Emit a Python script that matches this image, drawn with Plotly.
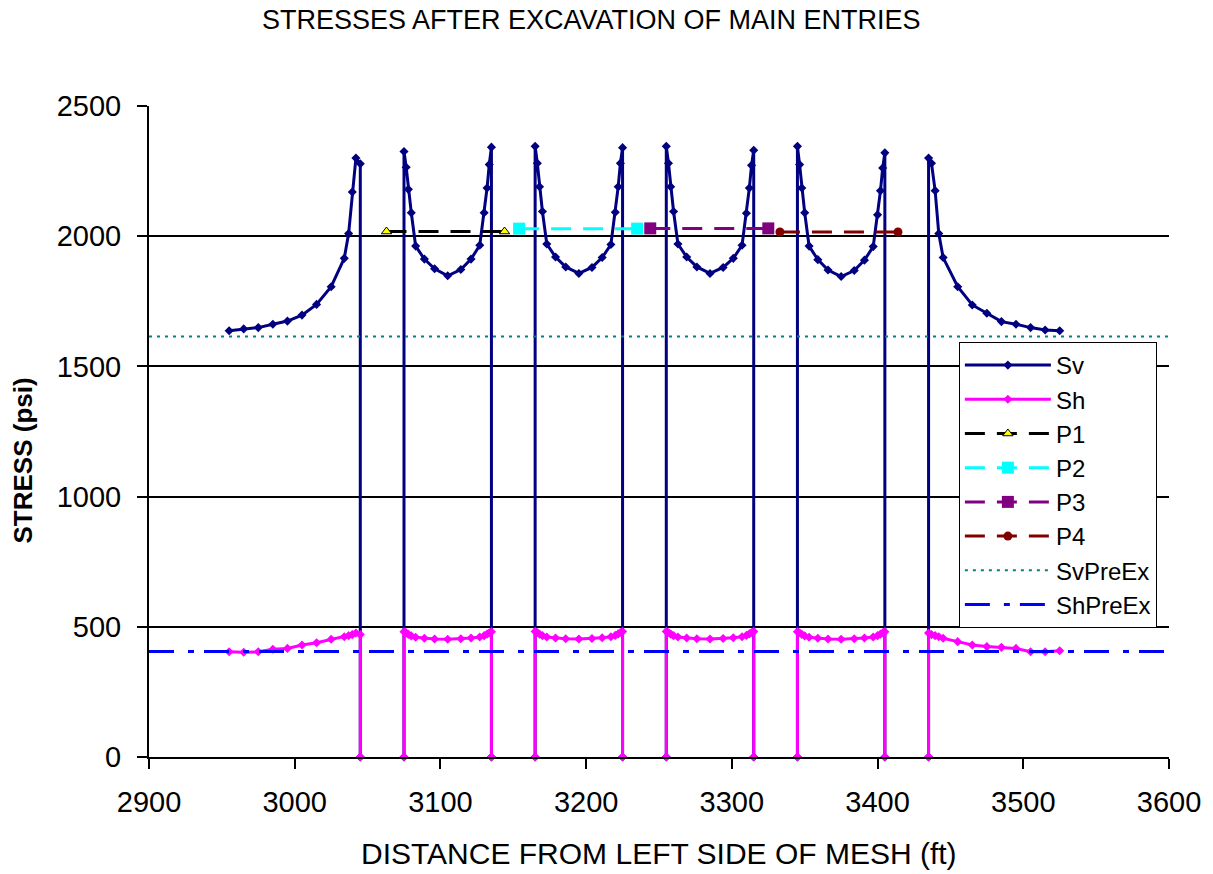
import plotly.graph_objects as go

# ---- Stress profile data (distance in ft, stress in psi) ----
# Left solid abutment (ends at the first entry rib)
left_x = [2955, 2965, 2975, 2985, 2995, 3005, 3015, 3025, 3034, 3037, 3039.5, 3042, 3045, 3045]
left_sv = [1637, 1644, 1649, 1662, 1674, 1697, 1738, 1806, 1915, 2010, 2170, 2300, 2278, 0]
left_sh = [404, 402, 404, 414, 417, 430, 439, 452, 462, 466, 470, 476, 470, 0]

# Pillar nodes: offsets (ft) from each pillar's left rib; pillars are 60 ft wide
pillar_left_ribs = [3075, 3165, 3255, 3345]
pillar_offsets = [0, 0, 1.5, 3, 5, 8, 14, 21, 30, 39, 46, 52, 55, 57, 58.5, 60, 60]

pillar1_sv = [0, 2325, 2265, 2180, 2090, 1962, 1912, 1875, 1848, 1872, 1912, 1965, 2090, 2185, 2275, 2342, 0]
pillar2_sv = [0, 2345, 2280, 2190, 2095, 1970, 1920, 1882, 1857, 1880, 1918, 1968, 2092, 2190, 2280, 2340, 0]
pillar3_sv = [0, 2345, 2280, 2190, 2095, 1970, 1920, 1882, 1857, 1880, 1915, 1965, 2088, 2185, 2272, 2330, 0]
pillar4_sv = [0, 2345, 2275, 2185, 2090, 1962, 1910, 1870, 1845, 1868, 1908, 1960, 2082, 2175, 2262, 2320, 0]

pillar1_sh = [0, 481, 477, 471, 465, 460, 456, 453, 452, 454, 457, 461, 466, 472, 477, 481, 0]
pillar2_sh = [0, 482, 478, 472, 466, 461, 457, 454, 453, 455, 458, 462, 467, 473, 478, 482, 0]
pillar3_sh = [0, 482, 478, 472, 466, 461, 457, 454, 453, 455, 458, 462, 467, 473, 478, 482, 0]
pillar4_sh = [0, 481, 477, 471, 465, 460, 456, 453, 452, 454, 457, 461, 466, 472, 477, 481, 0]

# Right solid abutment (starts at the last entry rib)
right_x = [3435, 3435, 3437, 3439.5, 3442, 3445, 3455, 3465, 3475, 3485, 3495, 3505, 3515, 3525]
right_sv = [0, 2300, 2280, 2175, 2010, 1918, 1806, 1736, 1704, 1672, 1662, 1649, 1640, 1637]
right_sh = [0, 476, 470, 466, 462, 456, 443, 430, 424, 421, 417, 404, 404, 408]

# Average pillar stresses (end points of each pillar line)
p1_x, p1_y = [3063, 3144], [2018, 2018]
p2_x, p2_y = [3154, 3235], [2029, 2029]
p3_x, p3_y = [3244, 3325], [2030, 2030]
p4_x, p4_y = [3333, 3414], [2016, 2016]

# Pre-excavation stresses
sv_pre = 1615
sh_pre = 405
x_range = [2900, 3600]

# ---- Assemble the profiles; entries are left blank (gaps) ----
pillar_sv = [pillar1_sv, pillar2_sv, pillar3_sv, pillar4_sv]
pillar_sh = [pillar1_sh, pillar2_sh, pillar3_sh, pillar4_sh]

xs, svs, shs = list(left_x), list(left_sv), list(left_sh)
for rib, sv_vals, sh_vals in zip(pillar_left_ribs, pillar_sv, pillar_sh):
    xs.append(None); svs.append(None); shs.append(None)
    xs += [rib + d for d in pillar_offsets]
    svs += sv_vals
    shs += sh_vals
xs.append(None); svs.append(None); shs.append(None)
xs += right_x
svs += right_sv
shs += right_sh

FONT = "Liberation Sans, Arial, sans-serif"

fig = go.Figure()

fig.add_trace(go.Scatter(
    x=xs, y=svs, name="Sv", mode="lines+markers", connectgaps=False,
    line=dict(color="#000080", width=3),
    marker=dict(symbol="diamond", size=7, color="#000080"),
    cliponaxis=False,
))
fig.add_trace(go.Scatter(
    x=xs, y=shs, name="Sh", mode="lines+markers", connectgaps=False,
    line=dict(color="#FF00FF", width=3),
    marker=dict(symbol="diamond", size=7, color="#FF00FF"),
    cliponaxis=False,
))
fig.add_trace(go.Scatter(
    x=p1_x, y=p1_y, name="P1", mode="lines+markers",
    line=dict(color="#000000", width=3, dash="20px,12px"),
    marker=dict(symbol="triangle-up", size=9, color="#FFFF00",
                line=dict(color="#000000", width=1)),
))
fig.add_trace(go.Scatter(
    x=p2_x, y=p2_y, name="P2", mode="lines+markers",
    line=dict(color="#00FFFF", width=3, dash="20px,12px"),
    marker=dict(symbol="square", size=12, color="#00FFFF"),
))
fig.add_trace(go.Scatter(
    x=p3_x, y=p3_y, name="P3", mode="lines+markers",
    line=dict(color="#800080", width=3, dash="20px,12px"),
    marker=dict(symbol="square", size=12, color="#800080"),
))
fig.add_trace(go.Scatter(
    x=p4_x, y=p4_y, name="P4", mode="lines+markers",
    line=dict(color="#800000", width=3, dash="20px,12px"),
    marker=dict(symbol="circle", size=9, color="#800000"),
))
fig.add_trace(go.Scatter(
    x=x_range, y=[sv_pre, sv_pre], name="SvPreEx", mode="lines",
    line=dict(color="#008080", width=2, dash="3px,5px"),
))
fig.add_trace(go.Scatter(
    x=x_range, y=[sh_pre, sh_pre], name="ShPreEx", mode="lines",
    line=dict(color="#0000FF", width=3, dash="25px,14px,6px,10px"),
))

fig.update_layout(
    width=1213, height=874,
    margin=dict(l=149, r=40, t=106, b=117),
    paper_bgcolor="white", plot_bgcolor="white",
    font=dict(family=FONT, color="#000000", size=26),
    showlegend=True,
    legend=dict(
        x=0.794, y=0.6375, xanchor="left", yanchor="top",
        bgcolor="white", bordercolor="#000000", borderwidth=1,
        font=dict(family=FONT, size=24, color="#000000"),
        tracegroupgap=0, itemwidth=86,
    ),
    xaxis=dict(
        range=x_range, dtick=100, tick0=2900,
        showgrid=False, zeroline=False,
        showline=True, linecolor="#000000", linewidth=2,
        ticks="outside", ticklen=10, tickwidth=2, tickcolor="#000000",
        tickfont=dict(family=FONT, size=29, color="#000000"),
        ticklabelstandoff=8,
    ),
    yaxis=dict(
        range=[0, 2500], dtick=500, tick0=0,
        showgrid=True, gridcolor="#000000", gridwidth=1.5,
        zeroline=False,
        showline=True, linecolor="#000000", linewidth=2,
        ticks="outside", ticklen=10, tickwidth=2, tickcolor="#000000",
        tickfont=dict(family=FONT, size=29, color="#000000"),
        ticklabelstandoff=10,
    ),
    annotations=[
        dict(text="STRESSES AFTER EXCAVATION OF MAIN ENTRIES",
             xref="paper", yref="paper", x=0.434, y=1.132,
             xanchor="center", yanchor="middle", showarrow=False,
             font=dict(family=FONT, size=27, color="#000000")),
        dict(text="DISTANCE FROM LEFT SIDE OF MESH (ft)",
             xref="paper", yref="paper", x=0.5, y=-0.149,
             xanchor="center", yanchor="middle", showarrow=False,
             font=dict(family=FONT, size=30, color="#000000")),
        dict(text="<b>STRESS (psi)</b>", textangle=-90,
             xref="paper", yref="paper", x=-0.124, y=0.4547,
             xanchor="center", yanchor="middle", showarrow=False,
             font=dict(family=FONT, size=26, color="#000000")),
    ],
)

fig.write_html("out.html")
